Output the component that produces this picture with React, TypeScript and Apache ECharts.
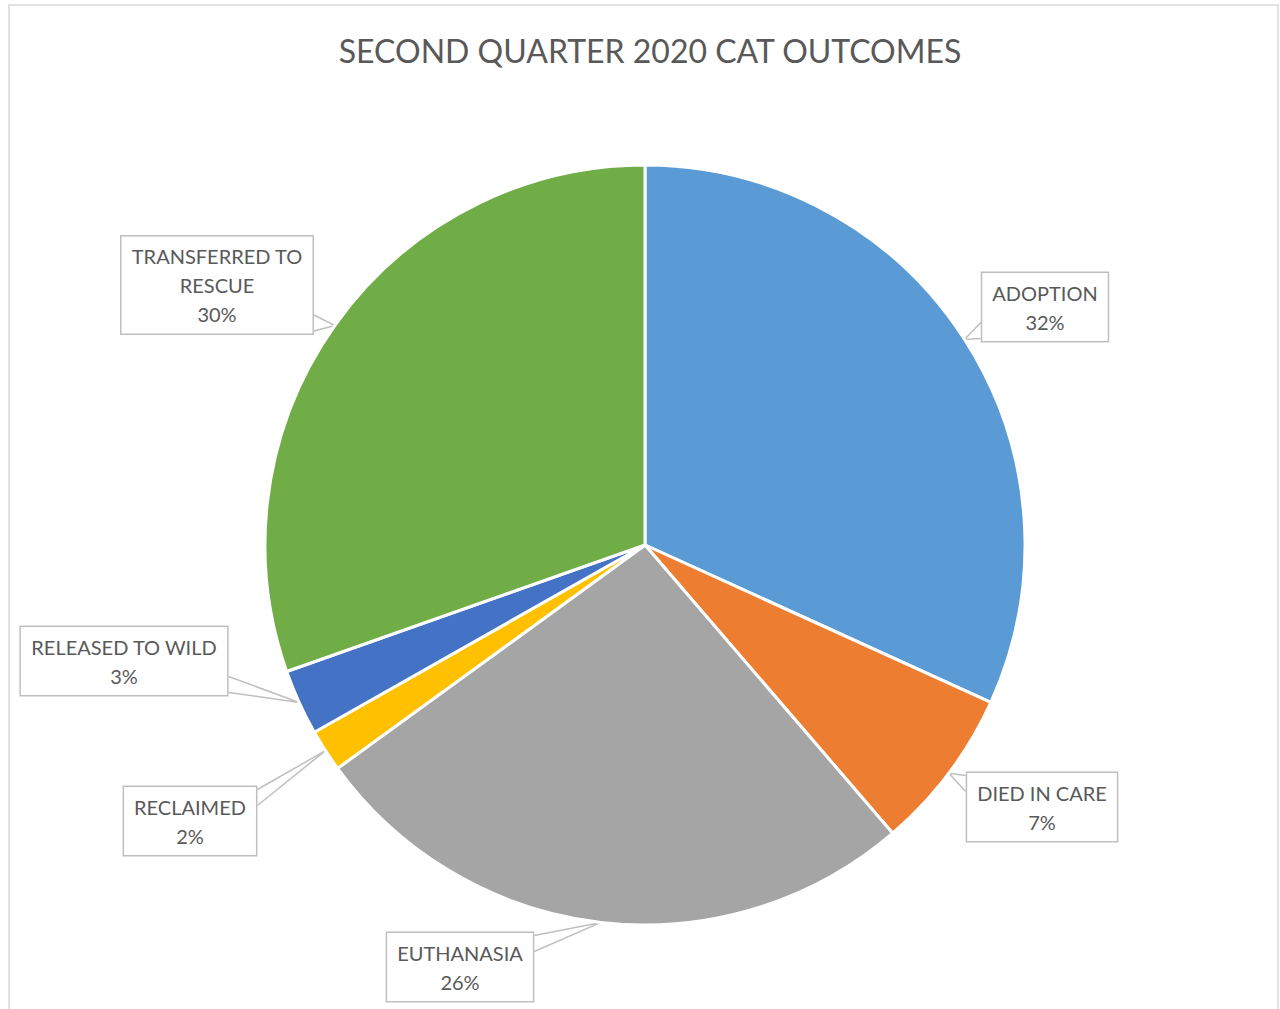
import React, { useEffect, useRef } from "react";
import * as echarts from "echarts";

const TITLE = "SECOND QUARTER 2020 CAT OUTCOMES";
const categories = [
  "ADOPTION",
  "DIED IN CARE",
  "EUTHANASIA",
  "RECLAIMED",
  "RELEASED TO WILD",
  "TRANSFERRED TO RESCUE",
];
const shares = [31.8, 6.9, 26.3, 1.8, 2.8, 30.4];
const colors = ["#5B9BD5", "#ED7D31", "#A5A5A5", "#FFC000", "#4472C4", "#70AD47"];

// label box centres (layout only)
const LABEL_POS: number[][] = [
  [1045, 307],
  [1042, 807],
  [460, 967],
  [190, 821],
  [124, 661],
  [217, 285],
];

const FONT = "Lato, 'Open Sans', sans-serif";
const TEXT = "#595959";
const LINE = "#BFBFBF";

function clamp(v: number, a: number, b: number) {
  return Math.max(a, Math.min(b, v));
}

export default function App() {
  const ref = useRef<HTMLDivElement>(null);
  useEffect(() => {
    if (!ref.current) return;
    const chart = echarts.init(ref.current, undefined, { renderer: "svg" });
    chart.setOption({
      animation: false,
      backgroundColor: "#fff",
      title: {
        text: TITLE,
        left: 645,
        textAlign: "center",
        top: 29,
        textStyle: { fontFamily: FONT, fontSize: 32, fontWeight: "normal", color: TEXT },
      },
      graphic: [
        {
          type: "rect",
          shape: { x: 9, y: 5, width: 1269, height: 1015 },
          style: { fill: "none", stroke: "#D9D9D9", lineWidth: 1.5 },
          silent: true,
        },
      ],
      series: [
        {
          type: "pie",
          center: [645, 545],
          radius: 380,
          startAngle: 90,
          clockwise: true,
          itemStyle: { borderColor: "#fff", borderWidth: 3 },
          data: categories.map((name, i) => ({
            name,
            value: shares[i],
            itemStyle: { color: colors[i] },
          })),
          label: {
            show: true,
            formatter: (p: any) =>
              p.name.replace("TO RESCUE", "TO\nRESCUE") + "\n" + Math.round(p.percent) + "%",
            fontFamily: FONT,
            fontSize: 20,
            lineHeight: 29,
            color: TEXT,
            align: "center",
            backgroundColor: "#fff",
            borderColor: LINE,
            borderWidth: 1.5,
            padding: [5, 10, 5, 10],
          },
          labelLine: {
            show: true,
            length: 10,
            length2: 10,
            smooth: false,
            lineStyle: { color: LINE, width: 1.5 },
          },
          labelLayout: (params: any) => {
            const i = params.dataIndex;
            const [cx, cy] = LABEL_POS[i];
            const r = params.labelRect;
            const w = r.width;
            const h = r.height;
            const left = cx - w / 2;
            const right = cx + w / 2;
            const top = cy - h / 2;
            const bottom = cy + h / 2;
            const pts = params.labelLinePoints;
            const tip = pts ? pts[0] : [cx, cy];
            const dxOut = Math.max(left - tip[0], 0, tip[0] - right);
            const dyOut = Math.max(top - tip[1], 0, tip[1] - bottom);
            const half = 8;
            let A: number[];
            let B: number[];
            if (dxOut >= dyOut) {
              const ex = tip[0] < left ? left : right;
              const my = clamp(tip[1], top + half + 4, bottom - half - 4);
              A = [ex, my - half];
              B = [ex, my + half];
            } else {
              const ey = tip[1] < top ? top : bottom;
              const mx = clamp(tip[0], left + half + 4, right - half - 4);
              A = [mx - half, ey];
              B = [mx + half, ey];
            }
            return {
              x: cx,
              y: cy,
              align: "center",
              verticalAlign: "middle",
              labelLinePoints: [A, tip, B],
            };
          },
        },
      ],
    });
    return () => chart.dispose();
  }, []);
  return (
    <div
      ref={ref}
      style={{ position: "fixed", left: 0, top: 0, width: 1280, height: 1009 }}
    />
  );
}
